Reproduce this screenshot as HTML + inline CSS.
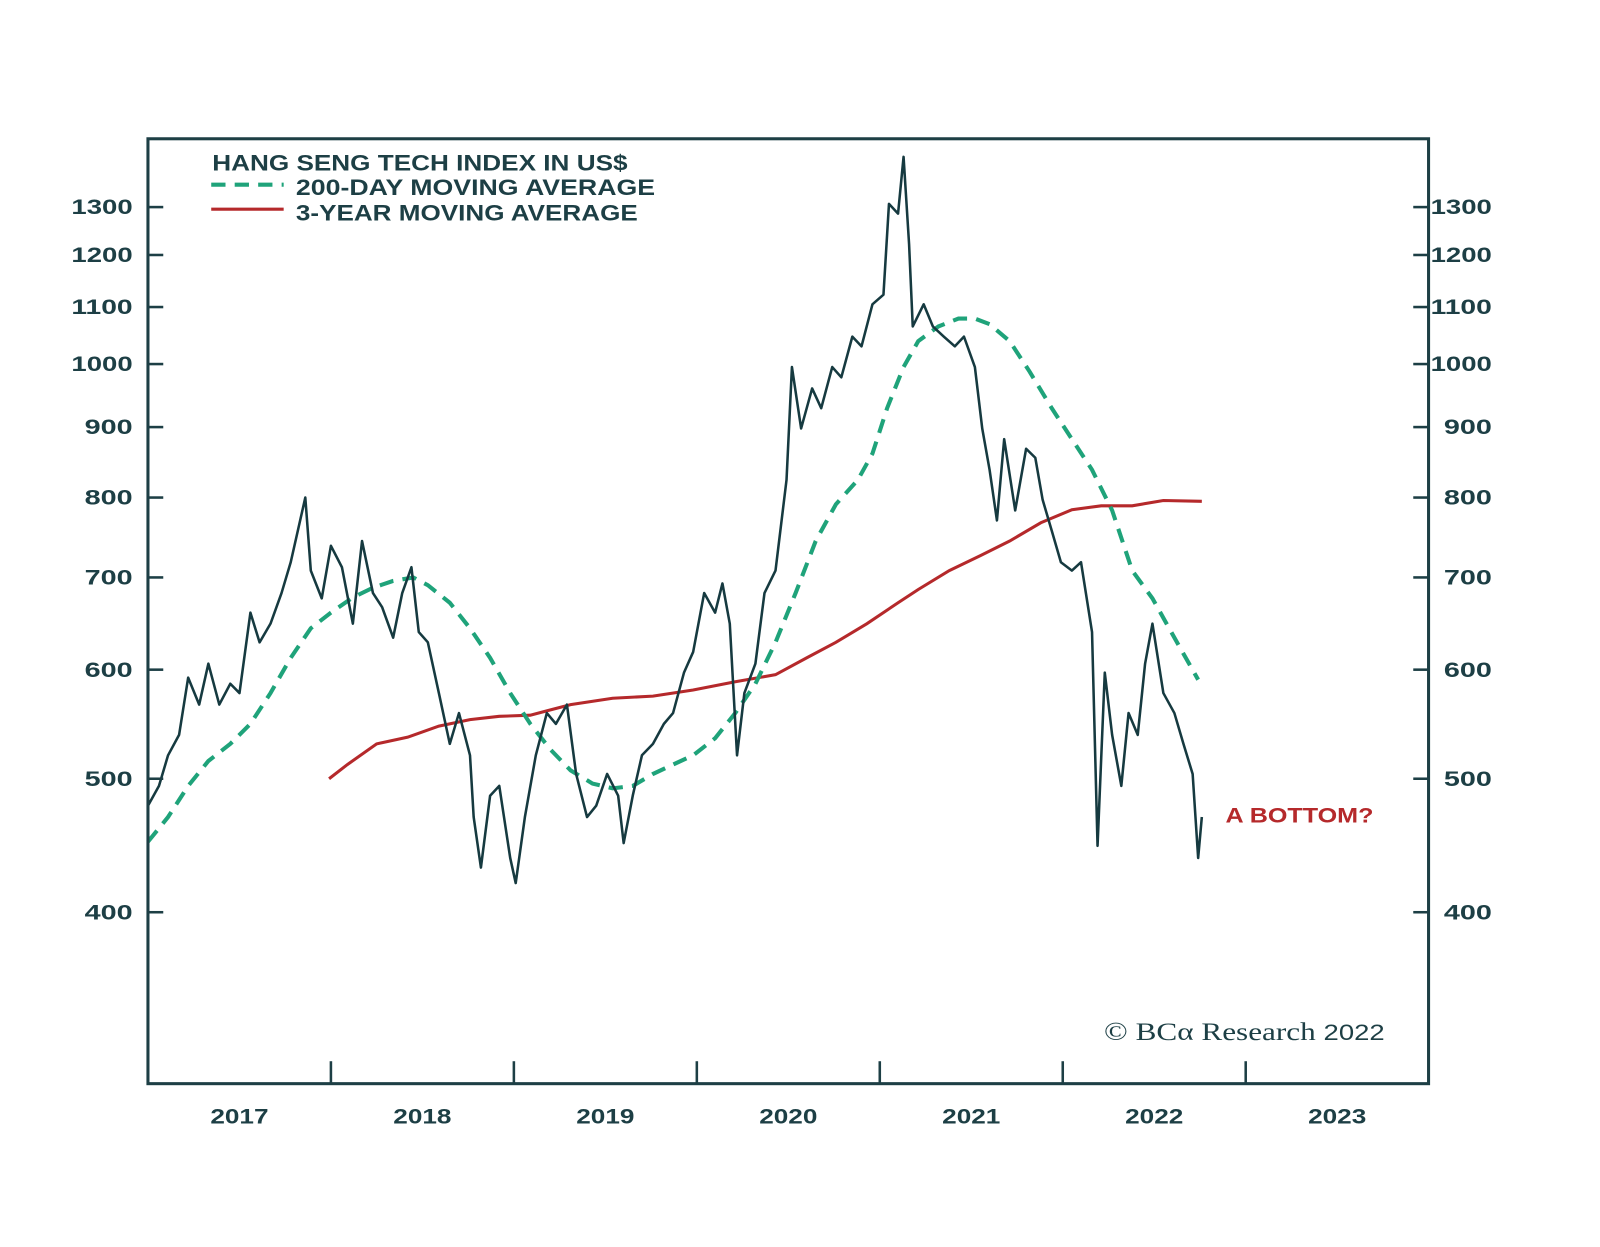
<!DOCTYPE html>
<html><head><meta charset="utf-8"><style>
html,body{margin:0;padding:0;background:#fff;}
svg text{font-family:"Liberation Sans",sans-serif;}
</style></head><body>
<svg id="root" width="1600" height="1242" viewBox="0 0 1600 1242" xmlns="http://www.w3.org/2000/svg">
<rect x="0" y="0" width="1600" height="1242" fill="#fff"/>
<g id="chart" transform="scale(1.0204)">
<g id="plot"></g>
<rect x="145" y="136" width="1255" height="926" fill="none" stroke="#1d3f45" stroke-width="3"/>
<g font-weight="bold" fill="#1d3f45" font-size="22">
<text x="208" y="167" textLength="407" lengthAdjust="spacingAndGlyphs">HANG SENG TECH INDEX IN US$</text>
<line x1="207" y1="181" x2="278" y2="181" stroke="#1fa37a" stroke-width="4" stroke-dasharray="14,9"/>
<text x="290" y="191" textLength="352" lengthAdjust="spacingAndGlyphs">200-DAY MOVING AVERAGE</text>
<line x1="207" y1="205" x2="278" y2="205" stroke="#b5292b" stroke-width="3"/>
<text x="290" y="216" textLength="335" lengthAdjust="spacingAndGlyphs">3-YEAR MOVING AVERAGE</text>
</g>
<text x="1201" y="806" font-size="21" font-weight="bold" fill="#b5292b" textLength="145" lengthAdjust="spacingAndGlyphs">A BOTTOM?</text>
<text x="1082" y="1019" font-size="25" fill="#1d3f45" style="font-family:'Liberation Serif',serif" textLength="275" lengthAdjust="spacingAndGlyphs">© BCα Research <tspan font-size="22" style="font-family:'Liberation Sans',sans-serif">2022</tspan></text>
</g>
</svg>
<script>
const yTicks=[400,500,600,700,800,900,1000,1100,1200,1300];
const xYears=[2017,2018,2019,2020,2021,2022,2023];
const idxDates=[2017.00,2017.06,2017.11,2017.17,2017.22,2017.28,2017.33,2017.39,2017.45,2017.50,2017.56,2017.61,2017.67,2017.73,2017.78,2017.86,2017.89,2017.95,2018.00,2018.06,2018.12,2018.17,2018.23,2018.28,2018.34,2018.39,2018.44,2018.48,2018.53,2018.59,2018.65,2018.70,2018.76,2018.78,2018.82,2018.87,2018.92,2018.98,2019.01,2019.06,2019.12,2019.18,2019.23,2019.29,2019.34,2019.40,2019.45,2019.51,2019.57,2019.60,2019.65,2019.70,2019.76,2019.82,2019.87,2019.93,2019.98,2020.04,2020.10,2020.14,2020.18,2020.22,2020.26,2020.32,2020.37,2020.43,2020.49,2020.52,2020.57,2020.63,2020.68,2020.74,2020.79,2020.85,2020.90,2020.96,2021.02,2021.05,2021.10,2021.13,2021.16,2021.18,2021.24,2021.29,2021.35,2021.41,2021.46,2021.52,2021.56,2021.60,2021.64,2021.68,2021.74,2021.80,2021.85,2021.89,2021.94,2021.99,2022.05,2022.10,2022.16,2022.19,2022.23,2022.27,2022.32,2022.36,2022.41,2022.45,2022.49,2022.55,2022.61,2022.66,2022.71,2022.74,2022.76];
const idxValues=[478,494,520,538,592,566,606,566,586,577,660,628,648,682,718,800,708,676,738,712,648,744,682,666,633,682,712,639,628,577,530,558,520,469,431,486,494,438,420,469,520,558,548,566,504,469,478,504,486,449,486,520,530,548,558,597,618,682,660,693,648,520,577,606,682,708,824,995,898,960,929,995,978,1047,1030,1105,1123,1307,1286,1414,1222,1065,1105,1065,1047,1030,1047,995,898,838,770,882,783,868,855,797,757,718,708,718,639,447,597,538,494,558,538,606,648,577,558,530,504,438,469];
const ma200Dates=[2017.00,2017.11,2017.22,2017.33,2017.45,2017.56,2017.67,2017.78,2017.89,2018.00,2018.12,2018.23,2018.34,2018.45,2018.53,2018.65,2018.76,2018.87,2018.98,2019.09,2019.20,2019.31,2019.43,2019.54,2019.65,2019.76,2019.87,2019.98,2020.10,2020.21,2020.32,2020.43,2020.54,2020.65,2020.76,2020.88,2020.96,2021.04,2021.13,2021.21,2021.32,2021.43,2021.52,2021.60,2021.71,2021.82,2021.94,2022.05,2022.16,2022.27,2022.38,2022.49,2022.61,2022.74];
const ma200Values=[450,469,494,515,530,548,577,612,643,660,677,688,696,700,691,671,643,612,577,548,525,507,496,492,494,504,512,520,535,558,586,628,682,744,791,824,861,929,995,1039,1065,1079,1079,1069,1039,987,929,882,838,783,708,676,633,590];
const ma3yDates=[2017.99,2018.09,2018.25,2018.42,2018.59,2018.76,2018.92,2019.09,2019.20,2019.31,2019.54,2019.76,2019.98,2020.21,2020.43,2020.60,2020.76,2020.93,2021.10,2021.21,2021.38,2021.55,2021.71,2021.88,2022.05,2022.21,2022.38,2022.55,2022.76];
const ma3yValues=[500,512,530,536,546,552,555,556,561,566,572,574,580,588,595,612,628,648,671,686,708,726,744,767,784,789,789,796,795];

const NS="http://www.w3.org/2000/svg";
const svg=document.getElementById('chart');
const plot=document.getElementById('plot');
function xS(d){return 145+(d-2017)*179.3;}
function yS(v){return 894-Math.log(v/400)*586.3;}
function mk(t,a,parent){const e=document.createElementNS(NS,t);for(const k in a)e.setAttribute(k,a[k]);(parent||svg).appendChild(e);return e;}
yTicks.forEach(v=>{
  const y=yS(v);
  const w=String(v).length===4?60:47;
  let l=mk('line',{x1:145,x2:160,y1:y,y2:y,stroke:'#1d3f45','stroke-width':2.5});
  
  
  let r=mk('line',{x1:1385,x2:1400,y1:y,y2:y,stroke:'#1d3f45','stroke-width':2.5});
  
  
  let t=mk('text',{x:130,y:y+7,'text-anchor':'end','font-size':21,'font-weight':'bold',fill:'#1d3f45',textLength:w,lengthAdjust:'spacingAndGlyphs'});
  t.textContent=v;
  
  
  let t2=mk('text',{x:1462,y:y+7,'text-anchor':'end','font-size':21,'font-weight':'bold',fill:'#1d3f45',textLength:w,lengthAdjust:'spacingAndGlyphs'});
  t2.textContent=v;
  
  
});
xYears.forEach(yr=>{
  if(yr>2017){
    let l=mk('line',{x1:xS(yr),x2:xS(yr),y1:1040,y2:1062,stroke:'#1d3f45','stroke-width':2.5});
    
    
  }
  let t=mk('text',{x:xS(yr+0.5),y:1101,'text-anchor':'middle','font-size':21,'font-weight':'bold',fill:'#1d3f45',textLength:57,lengthAdjust:'spacingAndGlyphs'});
  t.textContent=yr;
  
  
});
function path(ds,vs){return ds.map((d,i)=>(i?'L':'M')+xS(d).toFixed(1)+','+yS(vs[i]).toFixed(1)).join('');}
let red=mk('path',{d:path(ma3yDates,ma3yValues),fill:'none',stroke:'#b5292b','stroke-width':3},plot);


let green=mk('path',{d:path(ma200Dates,ma200Values),fill:'none',stroke:'#1fa37a','stroke-width':4,'stroke-dasharray':'14,9'},plot);


let idx=mk('path',{d:path(idxDates,idxValues),fill:'none',stroke:'#163a40','stroke-width':2.5,'stroke-linejoin':'round'},plot);


</script>
</body></html>
